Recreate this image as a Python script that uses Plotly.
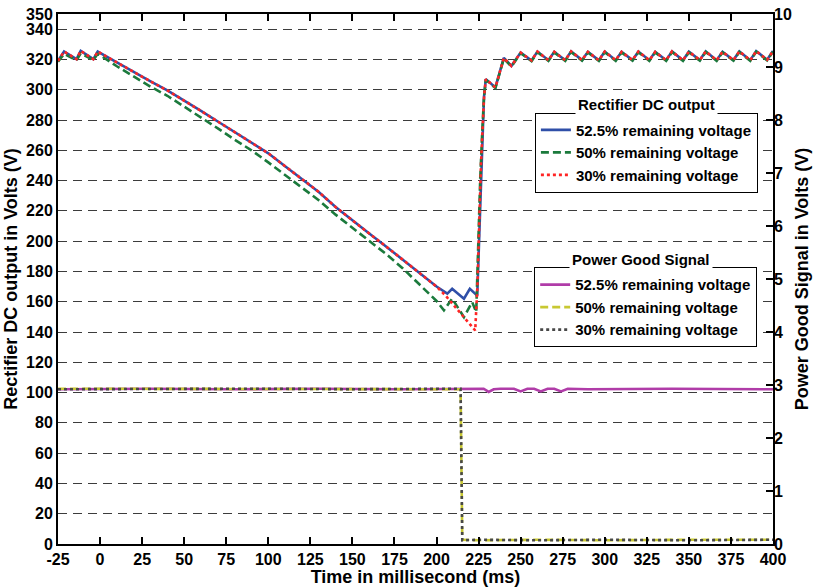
import plotly.graph_objects as go

# ---------------- data ----------------
# time axis ticks
x_ticks = [-25, 0, 25, 50, 75, 100, 125, 150, 175, 200, 225, 250, 275, 300, 325, 350, 375, 400]
y_ticks = [0, 20, 40, 60, 80, 100, 120, 140, 160, 180, 200, 220, 240, 260, 280, 300, 320, 340, 350]
y2_ticks = [0, 1, 2, 3, 4, 5, 6, 7, 8, 9, 10]

# pre-interruption ripple
t_pre = [-25, -21.4, -14, -11.5, -4, -1.4]
v_pre_525 = [319, 325.2, 320.2, 325.6, 320.2, 325.2]
v_pre_50 = [318.5, 323.6, 319.5, 324, 319.5, 323.8]
v_pre_30 = [319, 325.2, 320.2, 325.6, 320.2, 325.2]

# decay during interruption
t_decay = [10, 20, 30, 40, 50, 60, 70, 80, 90, 100, 110, 120, 130, 140, 150, 160, 170, 180, 190, 200]
v_decay_525 = [318, 311.5, 305.5, 299.5, 293, 286, 279, 272, 265.5, 258, 249.5, 241, 232.5, 222.5,
               213.5, 205, 196.5, 187.5, 178.5, 170]
v_decay_50 = [315.5, 308.5, 302, 296, 289, 282, 274.5, 267, 260, 252, 243.5, 235.5, 227, 217.5,
              209, 200.5, 191.5, 182, 171.5, 160.5]
v_decay_30 = [318, 311.5, 305.5, 299.5, 293, 286, 279, 272, 265.5, 258, 249.5, 241, 232.5, 222.5,
              213.5, 205, 196.5, 187.5, 178.5, 170]

# end of dip and recovery rise
t_dip_525 = [206.4, 209.3, 216.3, 219.8, 224.2, 225, 226.3, 227.3, 228.2]
v_dip_525 = [165.3, 168.5, 162, 168.5, 164, 190, 242, 274, 295]
t_dip_50 = [204.4, 209.3, 216.3, 221.2, 223.6, 224.6, 226, 227.2, 228.2]
v_dip_50 = [154.3, 162, 149.8, 159.7, 153.1, 195, 242, 273, 295]
t_dip_30 = [205.4, 210, 215, 220, 223, 224.3, 225.4, 226.4, 227.4, 228.3]
v_dip_30 = [164, 158, 151.5, 145, 141, 170, 215, 250, 275, 296]

# recovered ripple (all three overlap)
t_rec = [229.3, 235, 240, 244.5, 250, 256.5, 260, 266.5, 270, 276.5, 280, 286.5, 290, 296.5,
         300, 306.5, 310, 316.5, 320, 326.5, 330, 336.5, 340, 346.5, 350, 356.5, 360, 366.5,
         370, 376.5, 380, 386.5, 390, 396.5, 400]
v_rec = [307, 301.5, 321, 315.7, 324.5, 319.3, 325.2, 319.5, 325, 319.5, 325.3, 319.6, 325, 319.4,
         325.2, 319.5, 325, 319.6, 325.2, 319.5, 325, 319.5, 325.3, 319.4, 325.1, 319.6, 325.3, 319.5,
         325, 319.6, 325.3, 319.5, 325.5, 319.8, 325.5]

# power good signals (right axis, volts)
t_pg_525 = [-25, 30, 80, 130, 180, 215, 228, 231, 234, 238, 246, 250, 254, 258, 262, 266, 270,
            274, 278, 290, 340, 400]
v_pg_525 = [2.92, 2.93, 2.92, 2.93, 2.92, 2.93, 2.93, 2.87, 2.92, 2.93, 2.93, 2.88, 2.93, 2.93,
            2.88, 2.93, 2.93, 2.88, 2.93, 2.92, 2.93, 2.92]
t_pg_50 = [-25, 50, 100, 150, 200, 214.3, 215.3, 225, 260, 300, 350, 400]
v_pg_50 = [2.93, 2.93, 2.92, 2.93, 2.93, 2.92, 0.08, 0.07, 0.08, 0.07, 0.08, 0.08]
t_pg_30 = [-25, 50, 100, 150, 200, 214.3, 215.3, 225, 260, 300, 350, 400]
v_pg_30 = [2.92, 2.93, 2.93, 2.92, 2.93, 2.93, 0.07, 0.08, 0.07, 0.08, 0.07, 0.08]

# ---------------- figure ----------------
FONT = "Liberation Sans, Arial, Helvetica, sans-serif"

fig = go.Figure()

def rect(name, t, v, color, dash):
    fig.add_trace(go.Scatter(x=t, y=v, mode="lines", name=name, legend="legend",
                             line=dict(color=color, width=2.6, dash=dash), yaxis="y"))

def pg(name, t, v, color, dash):
    fig.add_trace(go.Scatter(x=t, y=v, mode="lines", name=name, legend="legend2",
                             line=dict(color=color, width=2.6, dash=dash), yaxis="y2"))

rect("52.5% remaining voltage", t_pre + t_decay + t_dip_525 + t_rec,
     v_pre_525 + v_decay_525 + v_dip_525 + v_rec, "#2f4fa8", "solid")
rect("50% remaining voltage", t_pre + t_decay + t_dip_50 + t_rec,
     v_pre_50 + v_decay_50 + v_dip_50 + [v - 0.4 for v in v_rec], "#1b7a3c", "8px,4px")
rect("30% remaining voltage", t_pre + t_decay + t_dip_30 + t_rec,
     v_pre_30 + v_decay_30 + v_dip_30 + v_rec, "#ff2424", "3px,3px")

pg("52.5% remaining voltage", t_pg_525, v_pg_525, "#b03ca8", "solid")
pg("50% remaining voltage", t_pg_50, v_pg_50, "#c8c832", "8px,4px")
pg("30% remaining voltage", t_pg_30, v_pg_30, "#484848", "3px,3px")

tickfont = dict(family=FONT, size=16, color="black", weight="bold")
titlefont = dict(family=FONT, size=18, color="black", weight="bold")
legfont = dict(family=FONT, size=15, color="black", weight="bold")

fig.update_layout(
    width=817, height=587,
    margin=dict(l=58, r=44, t=14, b=43, autoexpand=False),
    paper_bgcolor="white", plot_bgcolor="white",
    xaxis=dict(range=[-25, 400], tickvals=x_ticks, ticktext=[str(v) for v in x_ticks],
               ticks="inside", ticklen=7, tickwidth=1.5, tickcolor="black",
               showline=True, linewidth=2, linecolor="black", mirror="ticks",
               showgrid=False, zeroline=False, tickfont=tickfont,
               title=dict(text="Time in millisecond (ms)", font=titlefont, standoff=2)),
    yaxis=dict(range=[0, 350], tickvals=y_ticks, ticktext=[str(v) for v in y_ticks],
               ticks="", showline=True, linewidth=2, linecolor="black", mirror=True,
               showgrid=True, gridcolor="#3c3c3c", gridwidth=1, griddash="9px,6px",
               zeroline=False, tickfont=tickfont,
               title=dict(text="Rectifier DC output in Volts (V)", font=titlefont, standoff=4)),
    yaxis2=dict(range=[0, 10], tickvals=y2_ticks, ticktext=[str(v) for v in y2_ticks],
                overlaying="y", side="right", ticks="inside", ticklen=7, tickwidth=1.5,
                tickcolor="black", showline=False, showgrid=False, zeroline=False,
                tickfont=tickfont,
                title=dict(text="Power Good Signal in Volts (V)", font=titlefont, standoff=4)),
    legend=dict(x=0.667, y=0.814, xanchor="left", yanchor="top", bgcolor="white",
                bordercolor="black", borderwidth=1, font=legfont, itemwidth=30,
                tracegroupgap=0),
    legend2=dict(x=0.666, y=0.522, xanchor="left", yanchor="top", bgcolor="white",
                 bordercolor="black", borderwidth=1, font=legfont, itemwidth=30,
                 tracegroupgap=0),
    annotations=[
        dict(text="Rectifier DC output", x=0.823, y=0.83, xref="paper", yref="paper",
             showarrow=False, font=legfont, bgcolor="white", borderpad=2,
             xanchor="center", yanchor="middle"),
        dict(text="Power Good Signal", x=0.816, y=0.537, xref="paper", yref="paper",
             showarrow=False, font=legfont, bgcolor="white", borderpad=2,
             xanchor="center", yanchor="middle"),
    ],
    showlegend=True,
)

fig.write_html("out.html", config={"displayModeBar": False},
               post_script="document.body.style.margin='0';document.body.style.overflow='hidden';")
